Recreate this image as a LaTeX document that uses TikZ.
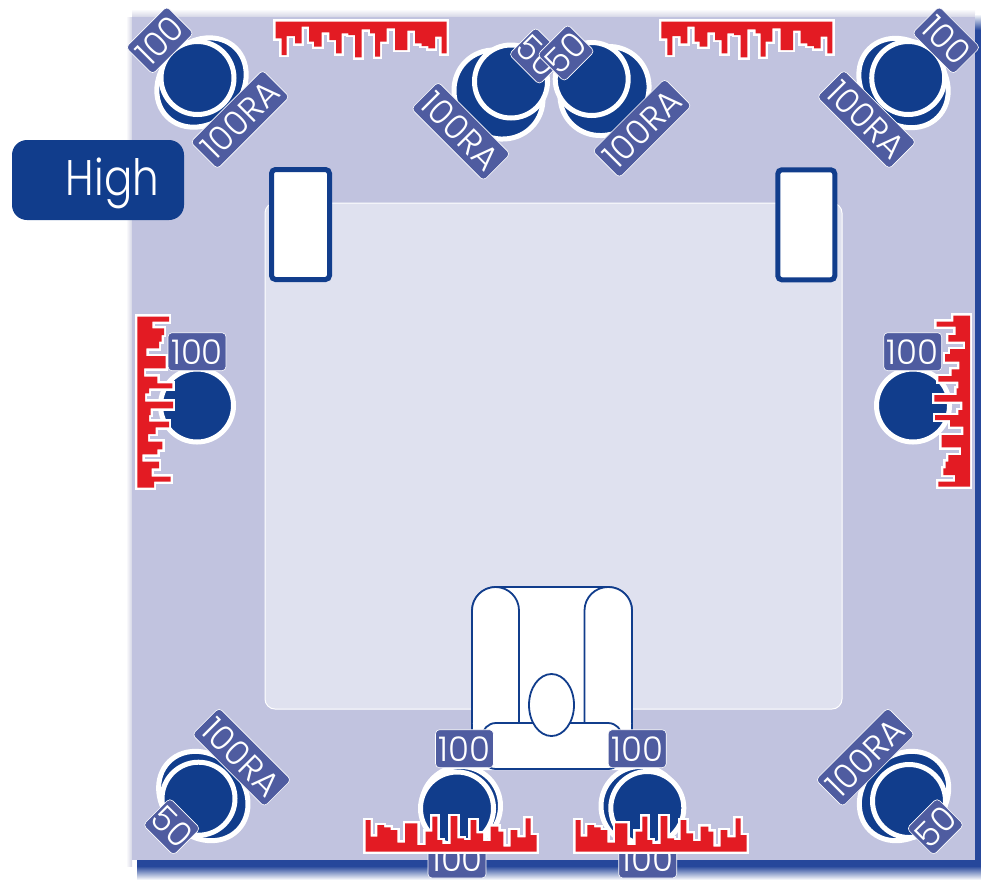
\documentclass[tikz,border=0pt]{standalone}
\usepackage{fontspec}
\usetikzlibrary{shapes.geometric}
\newfontfamily\tagfamily{Poppins Light}
\newfontfamily\highfamily[FakeStretch=.84]{Poppins Light}
\definecolor{PanelBlue}{HTML}{C1C3DF}
\definecolor{RoomBlue}{HTML}{DFE1EF}
\definecolor{FigureBlue}{HTML}{113D8C}
\definecolor{ShadowBlue}{HTML}{26479B}
\definecolor{TagBlue}{HTML}{4F5CA0}
\definecolor{SkyRed}{HTML}{E31B23}
\definecolor{GlowGrey}{HTML}{D4D5E5}
\tikzset{
  spk/.style={circle,fill=FigureBlue,draw=white,line width=5pt,inner sep=0pt,outer sep=0pt,minimum size=73pt},
  spkback/.style={ellipse,fill=FigureBlue,draw=white,line width=5pt,inner sep=0pt,outer sep=0pt},
  tag/.style={fill=TagBlue,draw=white,line width=.6pt,rounded corners=4pt,text=white,inner sep=0pt,outer sep=0pt,
    minimum height=38pt,minimum width=58pt,font=\tagfamily\fontsize{34}{34}\selectfont},
  tagwide/.style={tag,minimum width=102pt},
  tagsmall/.style={tag,minimum width=43pt},
  chair/.style={fill=white,draw=FigureBlue,line width=1.8pt},
  screen/.style={fill=white,draw=FigureBlue,line width=5pt,rounded corners=4pt},
  skyline/.pic={
    \path[preaction={draw=white,line width=4.6pt},fill=SkyRed]
      (0,0)--(171,0)--(171,31.7)--(166,31.7)--(166,15)--(159.3,15)--(159.3,26.7)--(152.7,26.7)--(152.7,24.3)--(146,24.3)
      --(146,21.7)--(139.3,21.7)--(139.3,9)--(131.7,9)--(131.7,28.3)--(119.3,28.3)--(119.3,6.7)--(111,6.7)--(111,20)
      --(104.3,20)--(104.3,35)--(99.3,35)--(99.3,11.7)--(94.3,11.7)--(94.3,7.7)--(86,7.7)--(86,35.7)--(79.3,35.7)
      --(79.3,13.3)--(72.7,13.3)--(72.7,11.7)--(66,11.7)--(66,31.7)--(60.3,31.7)--(60.3,18.3)--(53.7,18.3)--(53.7,10.7)
      --(46,10.7)--(46,25)--(38.3,25)--(38.3,20)--(33.3,20)--(33.3,5)--(26,5)--(26,21.7)--(19.3,21.7)--(19.3,14.3)
      --(11,14.3)--(11,33.3)--(6,33.3)--(6,16.7)--(0,16.7)--cycle;
  }
}
\begin{document}
\begin{tikzpicture}[x=1pt,y=-1pt,line cap=butt]
  \useasboundingbox (0,0) rectangle (981,879);
  \shade[left color=white,right color=GlowGrey] (126,17) rectangle (132,866);
  \shade[top color=white,bottom color=GlowGrey] (132,9) rectangle (975,17);
  \shade[top color=white,bottom color=ShadowBlue] (975,14) rectangle (981,30);
  \fill[ShadowBlue] (975,30) rectangle (981,866); \fill[ShadowBlue] (137,860) rectangle (981,866);
  \shade[top color=ShadowBlue,bottom color=white] (137,866) rectangle (981,880);
  \fill[PanelBlue] (132,17) rectangle (975,860);
  \draw[fill=RoomBlue,draw=white,line width=1pt,rounded corners=10pt] (265,203) rectangle (842,709);
  \draw[screen] (271.5,169.5) rectangle (329.5,279.5); \draw[screen] (777.8,169.8) rectangle (834.8,279.8);

  \draw[chair,rounded corners=24pt] (472,770)--(472,587)--(632,587)--(632,770);
  \draw[chair,rounded corners=23.5pt] (472,723)--(472,587)--(519,587)--(519,723);
  \draw[chair,rounded corners=23.5pt] (584.5,723)--(584.5,587)--(632,587)--(632,723);
  \draw[chair,rounded corners=14pt] (482,723) rectangle (622,769);
  \node[chair,ellipse,inner sep=0pt,minimum width=45pt,minimum height=62pt] (head) at (551.5,705) {};

  \node[fill=FigureBlue,rounded corners=15pt,minimum width=172pt,minimum height=80pt,inner sep=0pt] (highBox) at (98,180) {};
  \node[anchor=base,text=white,inner sep=0pt,font=\highfamily\fontsize{50}{50}\selectfont] (highText) at (112.5,195) {High};

  \node[spkback,rotate=45,minimum width=97pt,minimum height=81pt] (tlBack) at (201.5,82.5) {};
  \node[spk] (tlFront) at (197.5,78) {};
  \node[tag,rotate=45] (tlTag) at (159.7,40.3) {100}; \node[tagwide,rotate=45] (tlWide) at (240,119.5) {100RA};

  \node[spkback,rotate=-45,minimum width=93pt,minimum height=85pt] (tmlBack) at (498.5,94.5) {};
  \node[spk] (tmlFront) at (511,81.5) {};
  \node[tagwide,rotate=-45] (tmlWide) at (460.8,131.3) {100RA}; \node[tagsmall,rotate=-45] (tmlTag) at (537.5,56) {50};
  \node[spkback,rotate=45,minimum width=93pt,minimum height=85pt] (tmrBack) at (604.5,91) {};
  \node[spk] (tmrFront) at (591.7,79) {};
  \node[tagwide,rotate=45] (tmrWide) at (642,128.3) {100RA}; \node[tagsmall,rotate=45] (tmrTag) at (566,53) {50};

  \node[spkback,rotate=-45,minimum width=97pt,minimum height=81pt] (trBack) at (903.5,83) {};
  \node[spk] (trFront) at (908.2,78) {};
  \node[tag,rotate=-45] (trTag) at (946.2,40.3) {100}; \node[tagwide,rotate=-45] (trWide) at (866.5,119.5) {100RA};

  \node[spk] (leftSpk) at (197,405.5) {}; \node[spk] (rightSpk) at (913,405.5) {};
  \pic[rotate=90] at (137.3,487.7) {skyline}; \pic[rotate=-90] at (970,315.7) {skyline};
  \node[tag] (leftTag) at (197,351.7) {100}; \node[tag] (rightTag) at (912.7,351.7) {100};

  \node[spkback,rotate=-45,minimum width=97pt,minimum height=81pt] (blBack) at (203.3,796) {};
  \node[spk] (blFront) at (198.5,798.7) {};
  \node[tagwide,rotate=-45] (blWide) at (241.7,757.2) {100RA}; \node[tagsmall,rotate=-45] (blTag) at (171.7,826.7) {50};
  \node[spkback,rotate=45,minimum width=97pt,minimum height=81pt] (brBack) at (904,796) {};
  \node[spk] (brFront) at (909,801) {};
  \node[tagwide,rotate=45] (brWide) at (865.2,757.2) {100RA}; \node[tagsmall,rotate=45] (brTag) at (935.3,826.7) {50};

  \node[tag] (bmlLow) at (457,859) {100}; \node[tag] (bmrLow) at (647.7,859) {100};
  \node[spk,minimum size=79pt] (bmlBack) at (461,806) {}; \node[spk,minimum size=79pt] (bmrBack) at (640.5,806) {};
  \node[spk] (bmlFront) at (457,808.5) {}; \node[spk] (bmrFront) at (647.3,808) {};
  \node[tag] (bmlTag) at (464.5,748.7) {100}; \node[tag] (bmrTag) at (637.2,748.7) {100};
  \foreach \skyX in {536.7,746.7} \pic[rotate=180] at (\skyX,851.7) {skyline};
  \pic[rotate=0] at (275.7,21.7) {skyline}; \pic[rotate=0] at (661.3,21.7) {skyline};
\end{tikzpicture}
\end{document}
